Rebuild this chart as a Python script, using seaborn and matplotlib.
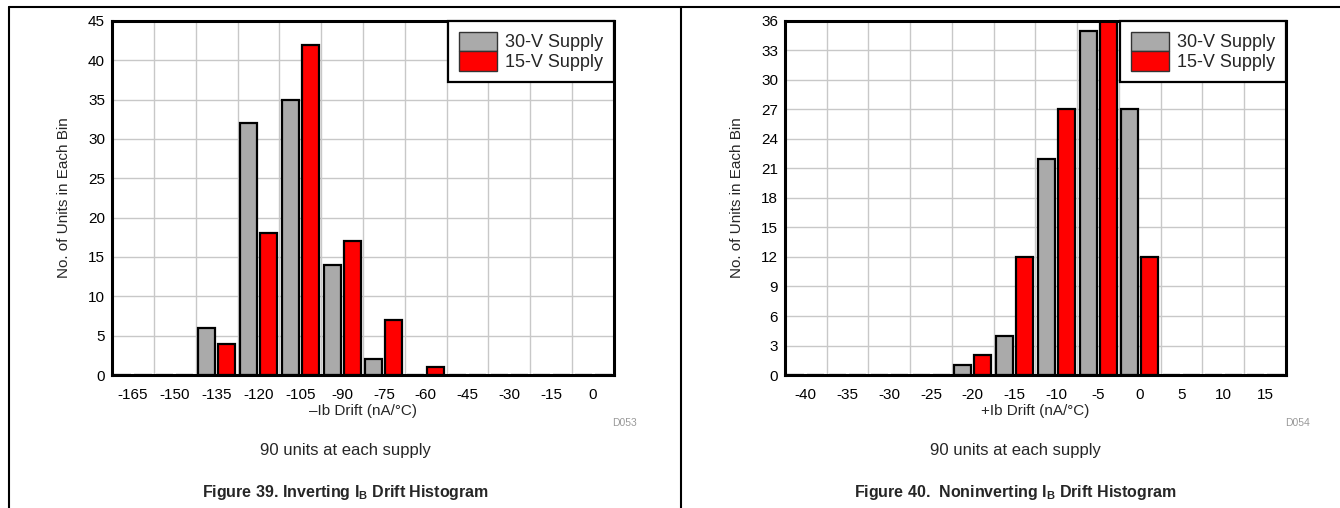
import numpy as np
import pandas as pd
import seaborn as sns
import matplotlib.pyplot as plt
import matplotlib.patches as mpatches
from matplotlib.lines import Line2D

sns.set_theme(style='white')
plt.rcParams['font.family'] = ['Liberation Sans', 'DejaVu Sans']
plt.rcParams['mathtext.fontset'] = 'custom'
plt.rcParams['mathtext.rm'] = 'Liberation Sans'
plt.rcParams['mathtext.bf'] = 'Liberation Sans:bold'
plt.rcParams['mathtext.it'] = 'Liberation Sans:italic'

# Figure 39 - inverting Ib drift
inv_bins = [-165, -150, -135, -120, -105, -90, -75, -60, -45, -30, -15, 0]
inv_30v = [0, 0, 6, 32, 35, 14, 2, 0, 0, 0, 0, 0]
inv_15v = [0, 0, 4, 18, 42, 17, 7, 1, 0, 0, 0, 0]

# Figure 40 - noninverting Ib drift
non_bins = [-40, -35, -30, -25, -20, -15, -10, -5, 0, 5, 10, 15]
non_30v = [0, 0, 0, 0, 1, 4, 22, 35, 27, 0, 0, 0]
non_15v = [0, 0, 0, 0, 2, 12, 27, 37, 12, 0, 0, 0]

supplies = ['30-V Supply', '15-V Supply']
colors = {'30-V Supply': '#AAAAAA', '15-V Supply': '#FF0000'}


def draw(ax, bins, v30, v15, ymax, ystep, xlabel):
    df = pd.DataFrame({'bin': bins + bins,
                       'count': v30 + v15,
                       'supply': [supplies[0]] * len(bins) + [supplies[1]] * len(bins)})
    sns.barplot(data=df, x='bin', y='count', hue='supply', order=bins,
                hue_order=supplies, palette=colors, saturation=1,
                width=0.96, gap=0.15, edgecolor='black', linewidth=1.6,
                legend=False, ax=ax)
    n = len(bins)
    ax.set_xlim(-0.5, n - 0.5)
    ax.set_ylim(0, ymax)
    ax.set_xticks(range(n))
    ax.set_xticklabels([str(b) for b in bins])
    ax.set_xticks(np.arange(0.5, n - 1, 1), minor=True)
    ax.set_yticks(np.arange(0, ymax + 1, ystep))
    ax.set_axisbelow(True)
    ax.grid(which='minor', axis='x', color='#C8C8C8', lw=1)
    ax.grid(which='major', axis='y', color='#C8C8C8', lw=1)
    ax.grid(which='major', axis='x', visible=False)
    ax.tick_params(axis='both', which='both', length=0, labelsize=11, colors='black')
    ax.tick_params(axis='x', pad=9)
    ax.tick_params(axis='y', pad=5)
    for s in ax.spines.values():
        s.set_color('black')
        s.set_linewidth(2.2)
    ax.set_xlabel(xlabel, fontsize=11, labelpad=2)
    ax.set_ylabel('No. of Units in Each Bin', fontsize=11, labelpad=12)

    handles = [mpatches.Patch(facecolor=colors[s], edgecolor='#333333', lw=1) for s in supplies]
    leg = ax.legend(handles, supplies, loc='upper right', bbox_to_anchor=(1, 1),
                    borderaxespad=0, fancybox=False, edgecolor='black', framealpha=1,
                    handlelength=2.1, handleheight=1.25, labelspacing=0,
                    handletextpad=0.45, borderpad=0.6, fontsize=13)
    leg.get_frame().set_linewidth(1.6)


fig = plt.figure(figsize=(13.4, 5.08), dpi=100)
ax1 = fig.add_axes([0.0836, 0.2618, 0.3746, 0.6969])
ax2 = fig.add_axes([0.5858, 0.2618, 0.3739, 0.6969])

draw(ax1, inv_bins, inv_30v, inv_15v, 45, 5, '\u2013Ib Drift (nA/\u00b0C)')
draw(ax2, non_bins, non_30v, non_15v, 36, 3, '+Ib Drift (nA/\u00b0C)')

# outer frame lines
fig.add_artist(Line2D([0.0067, 1.0], [0.986, 0.986], color='black', lw=1.5, transform=fig.transFigure))
fig.add_artist(Line2D([0.0067, 0.0067], [0.0, 0.986], color='black', lw=1.5, transform=fig.transFigure))
fig.add_artist(Line2D([0.508, 0.508], [0.0, 0.986], color='black', lw=1.5, transform=fig.transFigure))

fig.text(0.466, 0.167, 'D053', fontsize=7.5, color='#999999', ha='center', va='center')
fig.text(0.968, 0.167, 'D054', fontsize=7.5, color='#999999', ha='center', va='center')

fig.text(0.2575, 0.114, '90 units at each supply', fontsize=12, ha='center', va='center')
fig.text(0.7575, 0.114, '90 units at each supply', fontsize=12, ha='center', va='center')

fig.text(0.2575, 0.031, r'Figure 39. Inverting I$_\mathbf{B}$ Drift Histogram',
         fontsize=11.5, fontweight='bold', ha='center', va='center')
fig.text(0.7575, 0.031, r'Figure 40.  Noninverting I$_\mathbf{B}$ Drift Histogram',
         fontsize=11.5, fontweight='bold', ha='center', va='center')

fig.savefig('out.png', dpi=100)
